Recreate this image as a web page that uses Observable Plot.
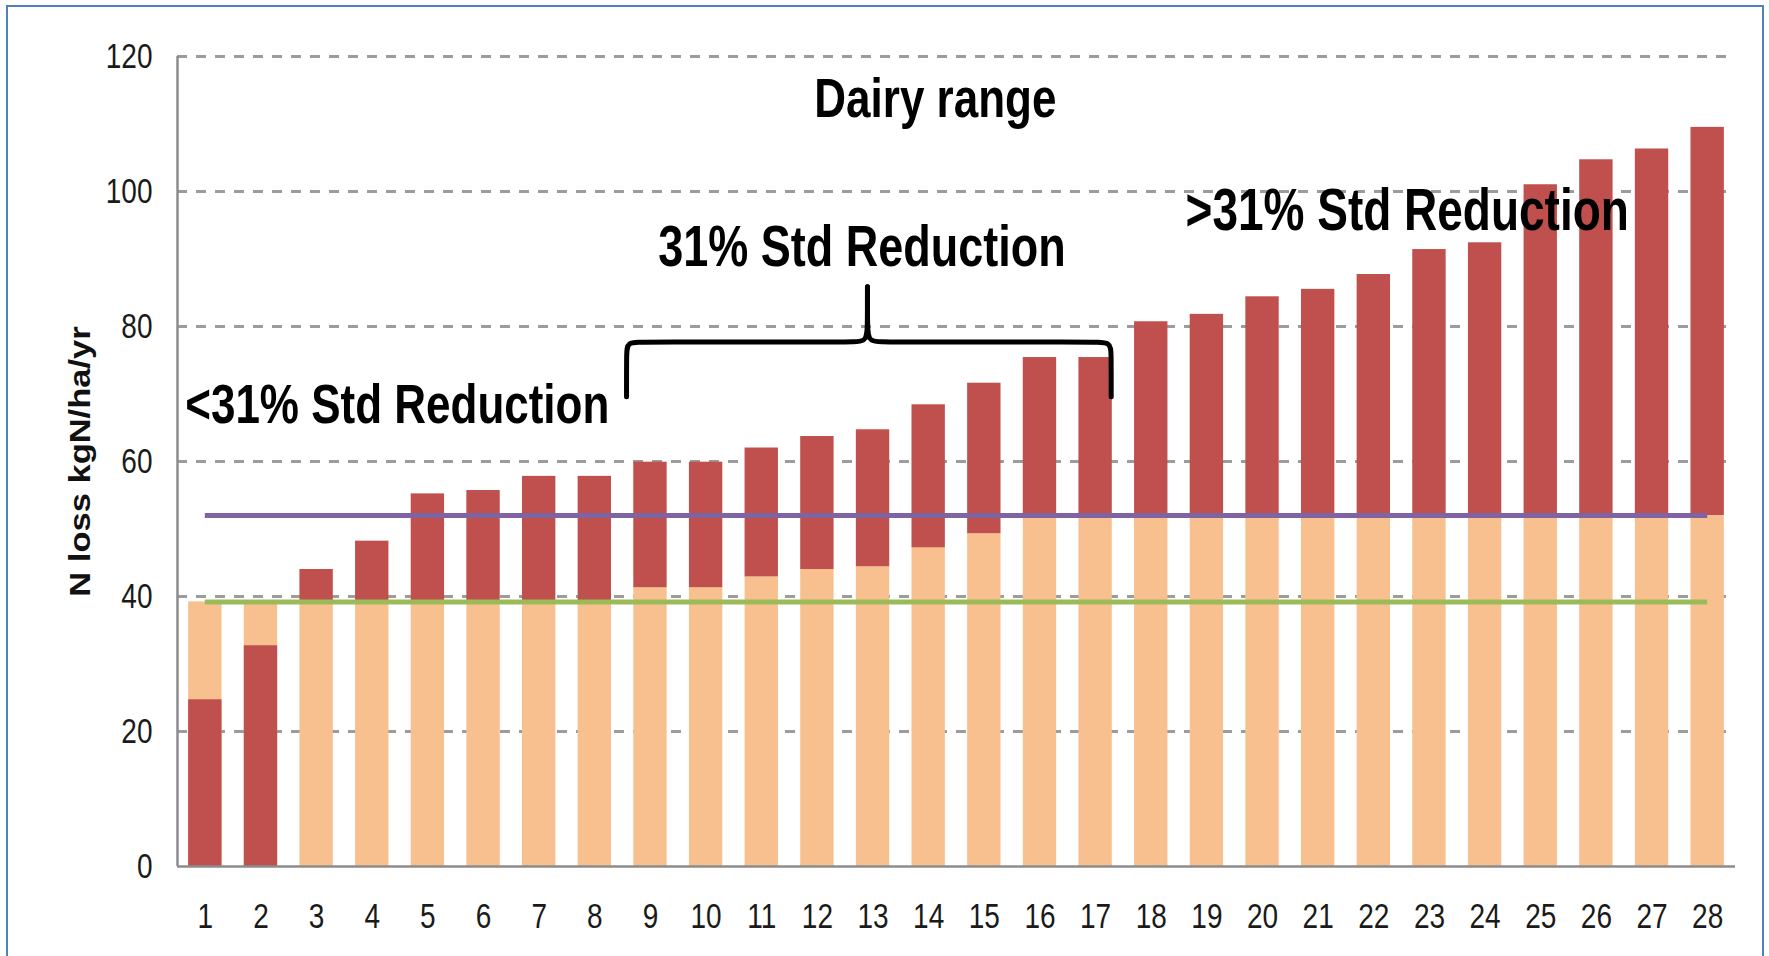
<!DOCTYPE html>
<html><head><meta charset="utf-8">
<script src="https://cdn.jsdelivr.net/npm/d3@7"></script>
<script src="https://cdn.jsdelivr.net/npm/@observablehq/plot@0.6"></script>
<style>
html,body{margin:0;padding:0;background:#fff;overflow:hidden;}
#wrap{position:relative;width:1769px;height:956px;}
#border{position:absolute;left:6px;top:5px;width:1758px;height:1000px;border:2px solid #4F81BD;box-sizing:border-box;pointer-events:none;}
</style></head>
<body><div id="wrap"><div id="chart"></div><div id="border"></div></div>
<script>
// ---- data ----
const farms = d3.range(1, 29);
const totalLoss = [24.7, 32.7, 44.0, 48.2, 55.2, 55.7, 57.8, 57.8, 59.9, 59.9, 62.0, 63.7, 64.7, 68.4,
                   71.6, 75.4, 75.4, 80.7, 81.8, 84.4, 85.5, 87.7, 91.4, 92.4, 101.0, 104.7, 106.3, 109.5];
const allowedLoss = [39.2, 39.2, 39.2, 39.2, 39.2, 39.2, 39.2, 39.2, 41.3, 41.3, 42.9, 44.0, 44.4, 47.2,
                     49.3, 52.0, 52.0, 52.0, 52.0, 52.0, 52.0, 52.0, 52.0, 52.0, 52.0, 52.0, 52.0, 52.0];
const stdLevel = 52.0;   // purple line
const lowLevel = 39.2;   // green line
const yTicks = [0, 20, 40, 60, 80, 100, 120];
const gridTicks = [20, 40, 60, 80, 100, 120];
const yLabel = "N loss kgN/ha/yr";
const titleText = "Dairy range";
const annoText = ["31% Std Reduction", "<31% Std Reduction", ">31% Std Reduction"];
const annoX = [12.8, 4.45, 22.6];
const annoY = [91.7, 68.4, 97.0];
const annoSize = [45, 44, 46];
const braceLeftX  = [8.57, 8.57, 8.58, 8.85, 12.55, 12.88, 12.9, 12.9];
const braceLeftY  = [69.6, 76.0, 77.7, 77.7, 77.7, 77.7, 79.5, 85.9];
const braceRightX = [12.9, 12.9, 12.92, 13.25, 16.95, 17.27, 17.28, 17.28];
const braceRightY = [85.9, 79.5, 77.7, 77.7, 77.7, 77.7, 76.0, 69.6];

const colors = {peach: "#F9C08F", red: "#C0504D", purple: "#8064A2", green: "#9BBB59", grid: "#9C9C9C", axis: "#8C8C8C"};

const data = farms.map((f, i) => ({farm: f, total: totalLoss[i], allowed: allowedLoss[i]}));
const levels = [
  {y: stdLevel, x1: farms[0], x2: farms[farms.length - 1], c: colors.purple},
  {y: lowLevel, x1: farms[0], x2: farms[farms.length - 1], c: colors.green}
];
const brace = [
  ...braceLeftX.map((x, i) => ({x, y: braceLeftY[i], side: "L"})),
  ...braceRightX.map((x, i) => ({x, y: braceRightY[i], side: "R"}))
];
const annos = annoText.map((t, i) => ({t, x: annoX[i], y: annoY[i], s: annoSize[i]}));
const half = 0.3;

const plot = Plot.plot({
  width: 1769, height: 956,
  marginLeft: 177, marginRight: 34, marginTop: 56, marginBottom: 90,
  style: {fontFamily: "'Liberation Sans', Arial, sans-serif", fontSize: "28px", color: "#1a1a1a", background: "transparent"},
  x: {type: "linear", domain: [0.5, 28.5], ticks: farms, tickSize: 0, tickPadding: 37, label: null, tickFormat: d => String(d)},
  y: {domain: [0, 120], ticks: yTicks, tickSize: 0, tickPadding: 25, label: null},
  marks: [
    Plot.ruleY(gridTicks, {stroke: colors.grid, strokeWidth: 2.8, strokeDasharray: "10,9"}),
    Plot.rectY(data, {x1: d => d.farm - half, x2: d => d.farm + half, y1: 0, y2: "allowed", fill: colors.peach}),
    Plot.rectY(data, {x1: d => d.farm - half, x2: d => d.farm + half, y1: d => d.total < d.allowed ? 0 : d.allowed, y2: "total", fill: colors.red}),
    Plot.ruleY(levels, {y: "y", x1: "x1", x2: "x2", stroke: "c", strokeWidth: 5}),
    Plot.ruleY([0], {stroke: colors.axis, strokeWidth: 2.5}),
    Plot.ruleX([0.5], {stroke: colors.axis, strokeWidth: 2.5}),
    Plot.line(brace, {x: "x", y: "y", z: "side", curve: "basis", stroke: "#000", strokeWidth: 5, strokeLinecap: "round"}),
    Plot.text([titleText], {x: 14.12, y: 113.7, text: d => d, fontSize: 44, fontWeight: "bold", fill: "#000"}),
    Plot.text(annos, {x: "x", y: "y", text: "t", fontSize: "s", fontWeight: "bold", fill: "#000"}),
    Plot.text([yLabel], {frameAnchor: "left", textAnchor: "middle", dx: -97, rotate: -90, text: d => d, fontSize: 29, fontWeight: "bold", fill: "#111"})
  ]
});

// vertical stretch of all text to mimic the original's condensed look
plot.querySelectorAll("text").forEach(t => {
  let tr = t.getAttribute("transform");
  if (!tr) {
    const x = t.getAttribute("x") || 0, y = t.getAttribute("y") || 0;
    t.setAttribute("x", 0); t.setAttribute("y", 0);
    tr = `translate(${x},${y})`;
  }
  if (tr.includes("rotate")) t.setAttribute("transform", tr + " scale(1.19,1)");
  else {
    const big = +t.getAttribute("font-size") > 40 || (t.parentNode && +t.parentNode.getAttribute("font-size") > 40);
    t.setAttribute("transform", tr + (big ? " scale(1,1.27)" : " scale(1,1.25)"));
  }
});
document.getElementById("chart").appendChild(plot);
</script>
</body></html>
